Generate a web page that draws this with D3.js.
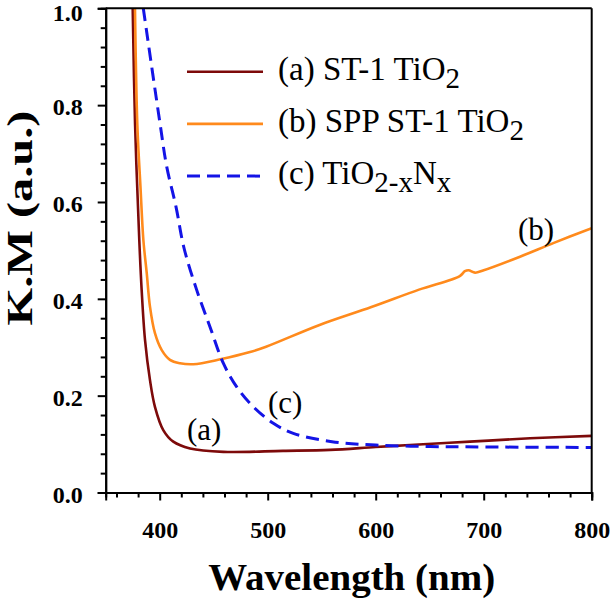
<!DOCTYPE html>
<html>
<head>
<meta charset="utf-8">
<script src="https://cdn.jsdelivr.net/npm/d3@7"></script>
<style>
  html, body { margin: 0; padding: 0; background: #fff; }
  svg { display: block; }
</style>
</head>
<body>
<svg id="chart" width="611" height="606"></svg>
<script>
// ---- Data ----
const wavelengthA = [375, 377.2, 381.1, 383.3, 386.4, 391.0, 395.6, 403.3, 412.6, 428.1, 458.9, 514.2, 557.7, 600, 631.8, 687.3, 742.9, 800];
const kmA         = [1.0, 0.76, 0.521, 0.418, 0.315, 0.232, 0.177, 0.129, 0.105, 0.091, 0.084, 0.086, 0.088, 0.094, 0.098, 0.105, 0.112, 0.117];

const wavelengthB = [377.1, 379.3, 382.2, 384.9, 388.0, 391.0, 395.6, 401.9, 409.5, 418.8, 431.1, 456, 483.6, 498.5, 548, 596, 640.1, 677.8, 682.6, 686, 692.0, 700, 733.6, 764.4, 800];
const kmB         = [1.0, 0.759, 0.631, 0.521, 0.453, 0.384, 0.329, 0.294, 0.274, 0.267, 0.265, 0.275, 0.290, 0.301, 0.346, 0.383, 0.419, 0.447, 0.457, 0.459, 0.454, 0.459, 0.487, 0.515, 0.546];

const wavelengthC = [384.8, 400.3, 406.5, 415.1, 422.5, 434.3, 446.6, 458.9, 471.3, 486.7, 505.2, 523.7, 559.5, 600, 650.3, 700, 800];
const kmC         = [1.0, 0.762, 0.673, 0.590, 0.505, 0.418, 0.342, 0.267, 0.218, 0.177, 0.143, 0.122, 0.105, 0.098, 0.095, 0.094, 0.093];

const xMajorTicks = [400, 500, 600, 700, 800];
const xMinorTicks = d3.range(360, 800, 20).filter(v => v % 100 !== 0);
const yMajorTicks = [0.0, 0.2, 0.4, 0.6, 0.8, 1.0];
const yMinorTicks = d3.range(0.04, 1.0, 0.04).filter(v => Math.abs(v / 0.2 - Math.round(v / 0.2)) > 1e-6);

const seriesNames  = ["(a) ST-1 TiO", "(b) SPP ST-1 TiO", "(c) TiO"];
const seriesColors = ["#7d0a0a", "#ff8a1c", "#1414e6"];
const annotations  = ["(a)", "(b)", "(c)"];
const xTitle = "Wavelength (nm)";
const yTitle = "K.M (a.u.)";

// ---- Layout ----
const svg = d3.select("#chart");
const pLeft = 105.7, pRight = 591.7, pTop = 8.3, pBottom = 492.5;
const x = d3.scaleLinear().domain([350, 800]).range([pLeft, pRight]);
const y = d3.scaleLinear().domain([0, 1]).range([pBottom, pTop]);
const serif = "'Liberation Serif', 'Times New Roman', Times, serif";

svg.append("defs").append("clipPath").attr("id", "clip")
  .append("rect").attr("x", pLeft).attr("y", pTop).attr("width", pRight - pLeft).attr("height", pBottom - pTop);

// ---- Curves ----
const line = d3.line().x(d => x(d[0])).y(d => y(d[1])).curve(d3.curveCatmullRom.alpha(0.5));
const seriesData = [
  d3.zip(wavelengthA, kmA),
  d3.zip(wavelengthB, kmB),
  d3.zip(wavelengthC, kmC)
];
const g = svg.append("g").attr("clip-path", "url(#clip)");
seriesData.forEach((d, i) => {
  g.append("path").datum(d)
    .attr("d", line)
    .attr("fill", "none")
    .attr("stroke", seriesColors[i])
    .attr("stroke-width", i === 2 ? 3 : 2.6)
    .attr("stroke-dasharray", i === 2 ? "13,7" : null)
    .attr("stroke-linejoin", "round");
});

// ---- Axes ----
const xAxisMinor = d3.axisBottom(x).tickValues(xMinorTicks).tickSize(5).tickFormat("");
const xAxis = d3.axisBottom(x).tickValues(xMajorTicks).tickSize(8).tickPadding(20).tickFormat(d3.format("d"));
const yAxisMinor = d3.axisLeft(y).tickValues(yMinorTicks).tickSize(5).tickFormat("");
const yAxis = d3.axisLeft(y).tickValues(yMajorTicks).tickSize(8).tickPadding(15).tickFormat(d3.format(".1f"));

function styleAxis(sel) {
  sel.selectAll("path.domain").attr("stroke", "#000").attr("stroke-width", 2);
  sel.selectAll(".tick line").attr("stroke", "#000").attr("stroke-width", 2);
  sel.selectAll(".tick text").attr("fill", "#000")
    .style("font-family", serif).style("font-weight", "bold").style("font-size", "24px");
}

svg.append("g").attr("transform", `translate(0,${pBottom})`).call(xAxisMinor).call(styleAxis);
svg.append("g").attr("transform", `translate(0,${pBottom})`).call(xAxis).call(styleAxis);
svg.append("g").attr("transform", `translate(${pLeft},0)`).call(yAxisMinor).call(styleAxis);
svg.append("g").attr("transform", `translate(${pLeft},0)`).call(yAxis).call(styleAxis)
  .selectAll(".tick text").attr("dy", d => d === 1 ? "0.5em" : "0.4em");

// frame (top and right)
svg.append("line").attr("x1", pLeft).attr("x2", pRight).attr("y1", pTop).attr("y2", pTop)
  .attr("stroke", "#000").attr("stroke-width", 2);
svg.append("line").attr("x1", pRight).attr("x2", pRight).attr("y1", pTop).attr("y2", pBottom)
  .attr("stroke", "#000").attr("stroke-width", 2);

// ---- Axis titles ----
svg.append("text").text(xTitle)
  .attr("x", (pLeft + pRight) / 2 + 3).attr("y", 590)
  .attr("text-anchor", "middle")
  .style("font-family", serif).style("font-weight", "bold").style("font-size", "37px")
  .attr("textLength", 287).attr("lengthAdjust", "spacingAndGlyphs");

svg.append("text").text(yTitle)
  .attr("transform", "translate(32,218) rotate(-90)")
  .attr("text-anchor", "middle")
  .style("font-family", serif).style("font-weight", "bold").style("font-size", "35px")
  .attr("textLength", 215).attr("lengthAdjust", "spacingAndGlyphs");

// ---- Legend ----
const legendY0 = 71.7, legendStep = 52.2;
const legend = svg.append("g");
seriesNames.forEach((name, i) => {
  const ly = legendY0 + i * legendStep;
  legend.append("line")
    .attr("x1", 187).attr("x2", 263).attr("y1", ly).attr("y2", ly)
    .attr("stroke", seriesColors[i])
    .attr("stroke-width", i === 2 ? 3 : 2.6)
    .attr("stroke-dasharray", i === 2 ? "13,7" : null);
  const t = legend.append("text")
    .attr("x", 278).attr("y", ly + 8)
    .style("font-family", serif).style("font-size", "33px").attr("fill", "#000");
  t.append("tspan").text(name);
  if (i < 2) {
    t.append("tspan").text("2").attr("dy", 8).style("font-size", "29px");
  } else {
    t.append("tspan").text("2-x").attr("dy", 8).style("font-size", "29px");
    t.append("tspan").text("N").attr("dy", -8);
    t.append("tspan").text("x").attr("dy", 8).style("font-size", "29px");
  }
});

// ---- Curve annotations ----
const annX = [187, 518, 268];
const annY = [440, 240, 413];
annotations.forEach((a, i) => {
  svg.append("text").text(a)
    .attr("x", annX[i]).attr("y", annY[i])
    .style("font-family", serif).style("font-size", "31px").attr("fill", "#000");
});
</script>
</body>
</html>
